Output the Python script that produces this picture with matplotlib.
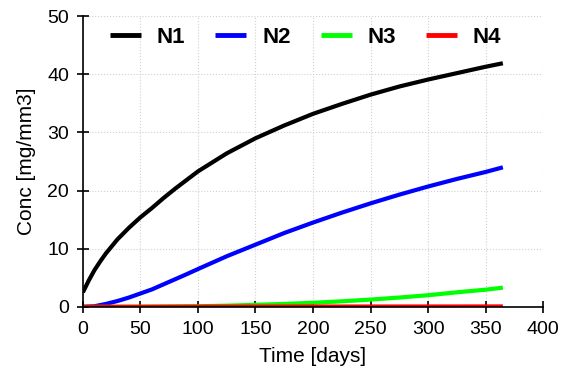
import matplotlib
matplotlib.use("Agg")
import matplotlib.pyplot as plt

plt.rcParams['font.family'] = ['Liberation Sans', 'DejaVu Sans']

days1 = [0, 5, 10, 15, 20, 25, 30, 35, 40, 45, 50, 60, 70, 80, 90, 100, 125, 150, 175, 200, 225, 250, 275, 300, 325, 350, 365]
n1 = [2.5, 4.5, 6.3, 7.8, 9.2, 10.4, 11.6, 12.6, 13.6, 14.5, 15.4, 17.0, 18.7, 20.3, 21.8, 23.3, 26.4, 29.0, 31.2, 33.2, 34.9, 36.5, 37.9, 39.1, 40.2, 41.3, 41.9]

days2 = [0, 10, 20, 30, 40, 50, 60, 75, 90, 100, 125, 150, 175, 200, 225, 250, 275, 300, 325, 350, 365]
n2 = [0.0, 0.1, 0.5, 1.0, 1.6, 2.3, 3.0, 4.3, 5.6, 6.5, 8.7, 10.7, 12.7, 14.5, 16.2, 17.8, 19.3, 20.7, 22.0, 23.2, 24.0]

days3 = [0, 50, 100, 125, 150, 175, 200, 225, 250, 275, 300, 325, 350, 365]
n3 = [0.0, 0.02, 0.1, 0.2, 0.35, 0.5, 0.7, 0.95, 1.25, 1.6, 2.0, 2.5, 2.95, 3.3]

days4 = [0, 100, 200, 300, 365]
n4 = [0.0, 0.03, 0.05, 0.06, 0.07]

labels = ['N1', 'N2', 'N3', 'N4']
colors = ['#000000', '#0000ff', '#00ff00', '#ff0000']

fig = plt.figure(figsize=(5.64, 3.85), dpi=100)
ax = fig.add_axes([0.147, 0.203, 0.816, 0.755])

for d, v, lab, c in zip([days1, days2, days3, days4], [n1, n2, n3, n4], labels, colors):
    ax.plot(d, v, color=c, lw=3, label=lab, solid_capstyle='butt', solid_joinstyle='round')

ax.set_xlim(0, 400)
ax.set_ylim(0, 50)
ax.set_xticks(range(0, 401, 50))
ax.set_yticks(range(0, 51, 10))
ax.grid(True, color='#d0d0d0', linestyle=':', linewidth=0.8)
ax.set_axisbelow(True)
for s in ['top', 'right']:
    ax.spines[s].set_visible(False)
ax.spines['left'].set_linewidth(1.2)
ax.spines['bottom'].set_linewidth(1.2)
ax.tick_params(direction='inout', length=8, width=1.2, labelsize=14, pad=6)

ax.set_xlabel('Time [days]', fontsize=15, labelpad=7)
ax.set_ylabel('Conc [mg/mm3]', fontsize=15, labelpad=8)

leg = ax.legend(loc='upper left', ncol=4, frameon=False, prop={'weight': 'bold', 'size': 16},
                handlelength=1.4, columnspacing=1.35, handletextpad=0.7,
                bbox_to_anchor=(0.04, 0.995), borderaxespad=0)
for h in leg.get_lines():
    h.set_linewidth(3.5)

fig.savefig('out.png', dpi=100)
